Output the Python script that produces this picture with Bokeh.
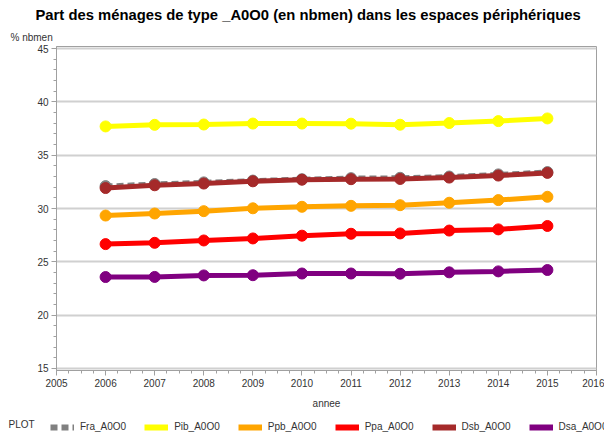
from bokeh.plotting import figure
from bokeh.layouts import column
from bokeh.models import Range1d, Legend, LegendItem, Title, Label, SingleIntervalTicker
from bokeh.embed import file_html
from bokeh.resources import INLINE

years = [2006, 2007, 2008, 2009, 2010, 2011, 2012, 2013, 2014, 2015]
fra_a0o0 = [32.10, 32.30, 32.45, 32.62, 32.75, 32.85, 32.88, 33.00, 33.20, 33.42]
pib_a0o0 = [37.70, 37.85, 37.88, 37.97, 37.97, 37.96, 37.86, 38.02, 38.20, 38.45]
ppb_a0o0 = [29.34, 29.53, 29.75, 30.02, 30.16, 30.25, 30.31, 30.54, 30.79, 31.10]
ppa_a0o0 = [26.66, 26.78, 27.00, 27.19, 27.45, 27.63, 27.66, 27.93, 28.04, 28.36]
dsb_a0o0 = [31.92, 32.18, 32.34, 32.55, 32.70, 32.75, 32.77, 32.90, 33.09, 33.34]
dsa_a0o0 = [23.57, 23.58, 23.72, 23.74, 23.90, 23.90, 23.88, 24.01, 24.10, 24.23]

series_names = ["Fra_A0O0", "Pib_A0O0", "Ppb_A0O0", "Ppa_A0O0", "Dsb_A0O0", "Dsa_A0O0"]
series_values = [fra_a0o0, pib_a0o0, ppb_a0o0, ppa_a0o0, dsb_a0o0, dsa_a0o0]
series_colors = ["#808080", "#FFFF00", "#FFA500", "#FF0000", "#A52A2A", "#800080"]
series_dash = ["7 4", "solid", "solid", "solid", "solid", "solid"]
legend_title = "PLOT"

FONT = "Liberation Sans"
TXT = "#333333"

p = figure(width=604, height=415, output_backend="svg", toolbar_location=None,
           x_range=Range1d(2005, 2016), y_range=Range1d(14.8, 45.2),
           min_border_left=56, min_border_right=8, min_border_top=0,
           min_border_bottom=45, title=None)

# titles: first added sits closest to the frame
p.add_layout(Title(text="% nbmen", align="left", offset=-46, text_font=FONT,
                   text_font_size="10px", text_font_style="normal",
                   text_color=TXT, standoff=7), "above")
p.add_layout(Title(text="Part des ménages de type _A0O0 (en nbmen) dans les espaces périphériques",
                   align="left", offset=-21, text_font=FONT, text_font_size="14.8px",
                   text_font_style="bold", text_color="#000000", standoff=8), "above")

p.outline_line_color = "#a0a0a0"
p.xgrid.grid_line_color = None
p.ygrid.grid_line_color = "#d0d0d0"
p.ygrid.grid_line_width = 2

p.xaxis.ticker = SingleIntervalTicker(interval=1, num_minor_ticks=4)
p.yaxis.ticker = SingleIntervalTicker(interval=5, num_minor_ticks=5)
for ax in (p.xaxis, p.yaxis):
    ax.axis_line_color = "#a0a0a0"
    ax.major_tick_line_color = "#a0a0a0"
    ax.minor_tick_line_color = "#a0a0a0"
    ax.major_tick_out = 5
    ax.major_tick_in = 0
    ax.minor_tick_out = 3
    ax.minor_tick_in = 0
    ax.major_label_text_font = FONT
    ax.major_label_text_font_size = "10px"
    ax.major_label_text_color = TXT
    ax.major_label_standoff = 3
p.xaxis.axis_label = "annee"
p.xaxis.axis_label_text_font = FONT
p.xaxis.axis_label_text_font_size = "10px"
p.xaxis.axis_label_text_font_style = "normal"
p.xaxis.axis_label_text_color = TXT
p.xaxis.axis_label_standoff = 8

for name, vals, col, dash in zip(series_names, series_values, series_colors, series_dash):
    p.line(years, vals, line_color=col, line_width=5, line_dash=dash)
    p.scatter(years, vals, size=11, fill_color=col, line_color=col)

# legend strip below the chart (its ranges keep the series out of view,
# only the legend glyphs are shown)
lg = figure(width=604, height=22, output_backend="svg", toolbar_location=None,
            x_range=Range1d(0, 1), y_range=Range1d(0, 1),
            x_axis_location=None, y_axis_location=None,
            min_border_left=0, min_border_right=0, min_border_top=0,
            min_border_bottom=0, outline_line_color=None)
lg.grid.visible = False
for fig in (p, lg):
    try:
        fig.frame_align = False
    except Exception:
        pass

items = []
for name, vals, col, dash in zip(series_names, series_values, series_colors, series_dash):
    r = lg.line(years, vals, line_color=col, line_width=6, line_dash=dash)
    items.append(LegendItem(label=name, renderers=[r]))

legend = Legend(items=items, orientation="horizontal", location=(50, 5),
                label_text_font=FONT, label_text_font_size="10px",
                label_text_color=TXT,
                glyph_width=24, glyph_height=8, label_standoff=6, spacing=18,
                padding=2, margin=0, border_line_color=None,
                background_fill_alpha=0)
lg.add_layout(legend, "center")
lg.add_layout(Label(x=8 / 604, y=0.59, text=legend_title, text_font=FONT,
                    text_font_size="10px", text_color=TXT,
                    text_baseline="middle"))

layout = column(p, lg, spacing=0)
open("out.html", "w").write(file_html(layout, INLINE))
